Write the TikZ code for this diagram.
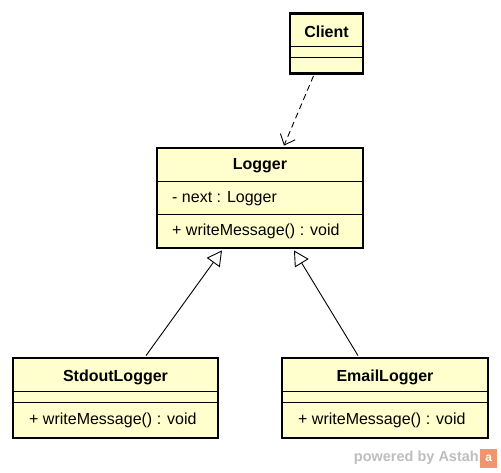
\documentclass[tikz,border=0pt]{standalone}
\usepackage{fontspec}
\setmainfont{Liberation Sans}
\usetikzlibrary{arrows.meta,calc}
\definecolor{classfill}{RGB}{255,255,206}
\definecolor{wmgray}{RGB}{190,190,190}
\definecolor{wmorange}{RGB}{240,150,110}
\tikzset{
  classbox/.style={draw=black, line width=2.4pt, fill=classfill, rectangle, inner sep=0pt},
  divider/.style={line width=0.9pt, black},
  title/.style={font=\fontsize{16}{19}\selectfont\bfseries, inner sep=0pt},
  member/.style={font=\fontsize{16}{19}\selectfont, inner sep=0pt, anchor=west},
  dep/.style={dashed, dash pattern=on 6pt off 4pt, line width=0.9pt, -{Straight Barb[length=9pt,width=16pt,line width=0.9pt]}},
  gen/.style={line width=0.9pt, -{Triangle[open,length=15pt,width=16pt,line width=0.9pt,fill=white]}}
}
\begin{document}
\begin{tikzpicture}[x=1pt,y=-1pt]
\useasboundingbox (0,0) rectangle (501,472);
\fill[white] (0,0) rectangle (501,472);

% Client
\node[classbox, minimum width=73pt, minimum height=60pt] (client) at (326.5,43.5) {};
\node[title] (clientt) at (326.5,32) {Client};
\draw[divider] (client.west |- 0,46) -- (client.east |- 0,46);
\draw[divider] (client.west |- 0,57) -- (client.east |- 0,57);

% Logger
\node[classbox, minimum width=206pt, minimum height=100pt] (logger) at (260,198) {};
\node[title] (loggert) at (260,166) {Logger};
\draw[divider] (logger.west |- 0,181) -- (logger.east |- 0,181);
\draw[divider] (logger.west |- 0,214) -- (logger.east |- 0,214);
\node[member] (lnext) at (172,199) {- next : Logger};
\node[member] (lwrite) at (172,231) {+ writeMessage() : void};

% StdoutLogger
\node[classbox, minimum width=205pt, minimum height=80pt] (stdout) at (115.5,398) {};
\node[title] (stdoutt) at (115.5,377) {StdoutLogger};
\draw[divider] (stdout.west |- 0,391) -- (stdout.east |- 0,391);
\draw[divider] (stdout.west |- 0,402) -- (stdout.east |- 0,402);
\node[member] (swrite) at (29,420) {+ writeMessage() : void};

% EmailLogger
\node[classbox, minimum width=206pt, minimum height=80pt] (email) at (385,398) {};
\node[title] (emailt) at (385,377) {EmailLogger};
\draw[divider] (email.west |- 0,391) -- (email.east |- 0,391);
\draw[divider] (email.west |- 0,402) -- (email.east |- 0,402);
\node[member] (ewrite) at (298,420) {+ writeMessage() : void};

% connectors
\coordinate (cfrom) at ([xshift=-13pt,yshift=-1.2pt]client.south);
\coordinate (cto) at ([xshift=24pt,yshift=1.2pt]logger.north);
\draw[dep] (cfrom) -- (cto);

\coordinate (sfrom) at ([xshift=30.5pt,yshift=1.2pt]stdout.north);
\coordinate (sto) at ([xshift=-38pt,yshift=-1.2pt]logger.south);
\draw[gen] (sfrom) -- (sto);

\coordinate (efrom) at ([xshift=-27pt,yshift=1.2pt]email.north);
\coordinate (eto) at ([xshift=34pt,yshift=-1.2pt]logger.south);
\draw[gen] (efrom) -- (eto);

% watermark
\node[font=\fontsize{14.5}{16}\selectfont\bfseries, text=wmgray, anchor=east, inner sep=0pt] (wm) at (479,458) {powered by Astah};
\node[fill=wmorange, minimum width=17pt, minimum height=19pt, inner sep=0pt, anchor=west, font=\fontsize{12}{13}\selectfont\bfseries, text=white] (logo) at (480,458) {a};
\end{tikzpicture}
\end{document}
